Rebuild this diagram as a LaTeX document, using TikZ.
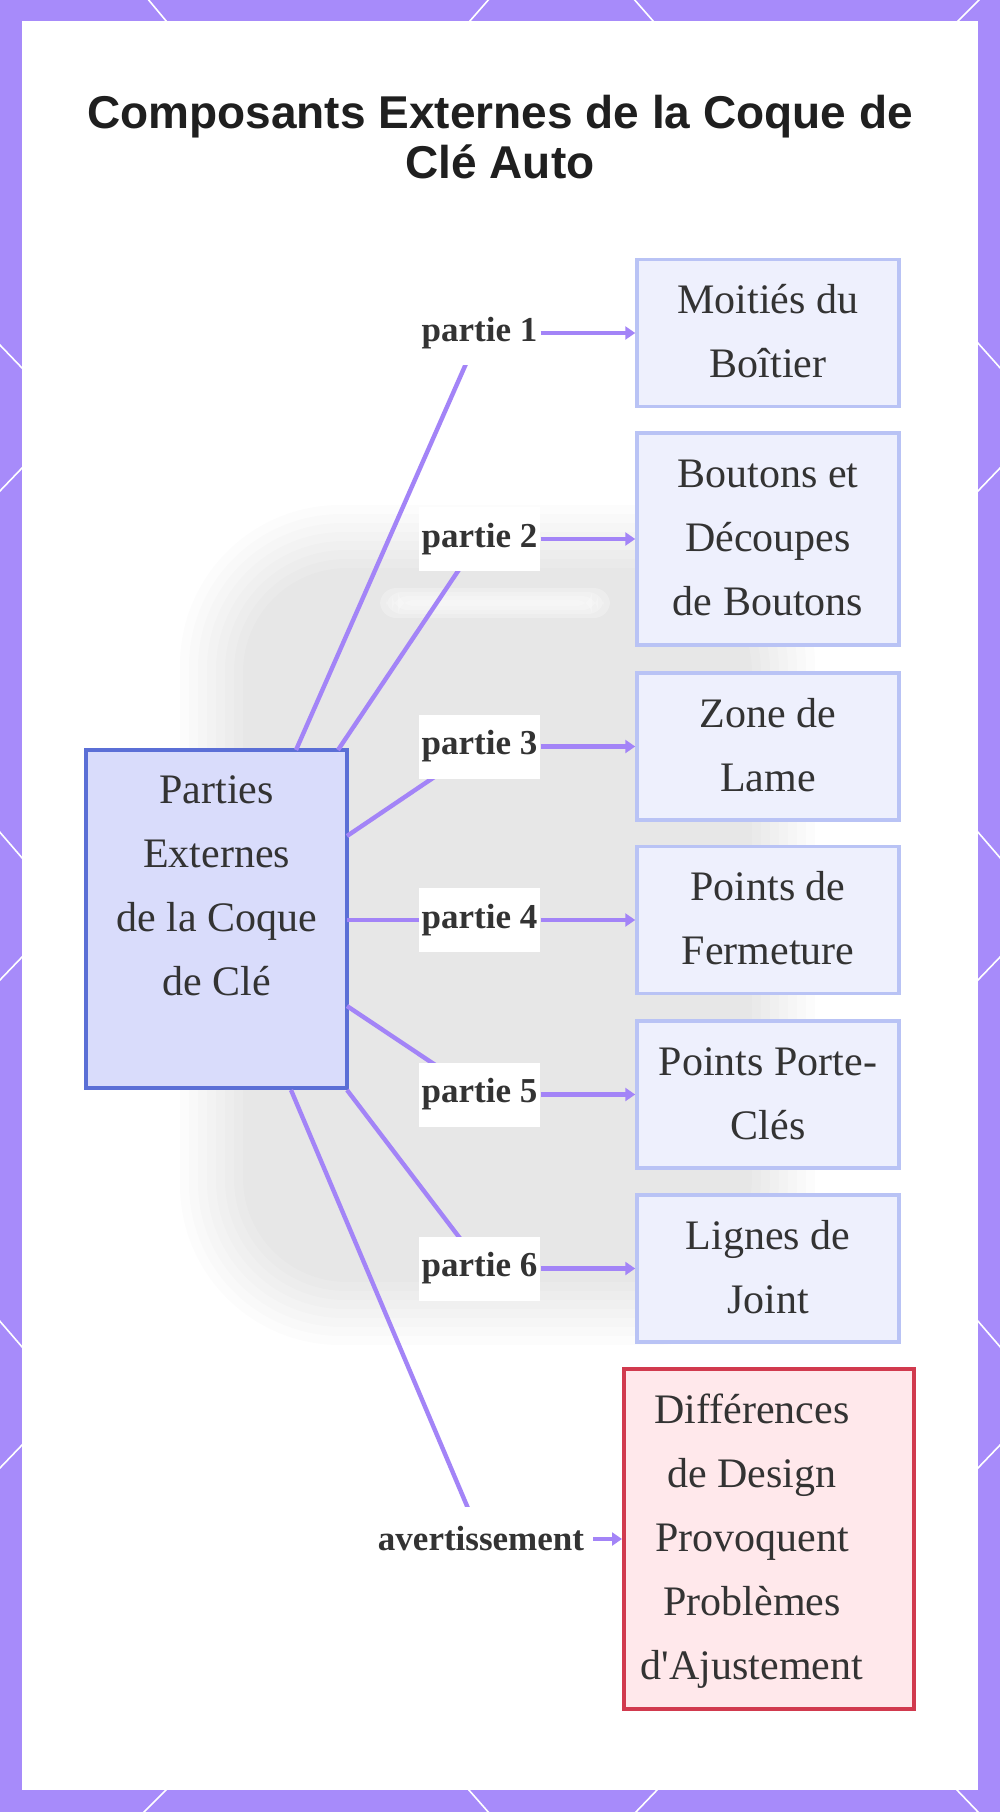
\documentclass[tikz,border=0pt]{standalone}
\usepackage{fontspec}
\setmainfont{Liberation Serif}[Ligatures=TeXOff]
\newfontfamily\titlefont{Liberation Sans}
\usetikzlibrary{arrows.meta}
\definecolor{framec}{HTML}{A78BFA}
\definecolor{edgec}{HTML}{A384F7}
\definecolor{mainfill}{HTML}{D9DCFB}
\definecolor{mainline}{HTML}{5B6FD6}
\definecolor{partfill}{HTML}{EEF0FD}
\definecolor{partline}{HTML}{B9C3F5}
\definecolor{warnfill}{HTML}{FFE8EB}
\definecolor{warnline}{HTML}{D13A4E}
\definecolor{txt}{HTML}{333333}
\begin{document}
\begin{tikzpicture}[x=0.5pt,y=-0.5pt,
  boxtext/.style={align=center, text=txt, font=\fontsize{21pt}{32pt}\selectfont, inner sep=0pt},
  partbox/.style={boxtext, draw=partline, fill=partfill, line width=1.75pt, minimum width=131pt, minimum height=73.5pt},
  mainbox/.style={boxtext, draw=mainline, fill=mainfill, line width=2pt, minimum width=130.5pt, minimum height=169pt},
  warnbox/.style={draw=warnline, fill=warnfill, line width=2pt, minimum width=145pt, minimum height=170pt, inner sep=0pt},
  lbl/.style={fill=white, text=txt, font=\bfseries\fontsize{17.5pt}{21pt}\selectfont, inner xsep=1.5pt, inner ysep=0pt, minimum height=32pt},
  edge/.style={draw=edgec, line width=2.2pt},
  arr/.style={edge, -{Triangle[length=5pt,width=6.5pt]}},
  deco/.style={draw=white, line width=0.8pt}
]
\useasboundingbox (0,0) rectangle (1000,1812);
% frame
\fill[framec] (0,0) rectangle (1000,1812);
\fill[white] (22,21) rectangle (978,1790);
% white marks in frame
\draw[deco] (147,-2) -- (167,22);
\draw[deco] (490,-2) -- (469,22);
\draw[deco] (633,-2) -- (654,22);
\draw[deco] (981,-2) -- (957,22);
\draw[deco] (167,1789) -- (142,1814);
\draw[deco] (468,1789) -- (490,1814);
\draw[deco] (658,1789) -- (634,1814);
\draw[deco] (956,1789) -- (980,1814);
\draw[deco] (-2,343) -- (23,369);
\draw[deco] (-2,493) -- (23,467);
\draw[deco] (-2,830) -- (23,859);
\draw[deco] (-2,982) -- (23,956);
\draw[deco] (-2,1319) -- (23,1348);
\draw[deco] (-2,1470) -- (23,1444);
\draw[deco] (977,342) -- (1002,370);
\draw[deco] (977,492) -- (1002,466);
\draw[deco] (977,831) -- (1002,860);
\draw[deco] (977,981) -- (1002,955);
\draw[deco] (977,1320) -- (1002,1349);
\draw[deco] (977,1469) -- (1002,1443);
% faint blurred background shape
\foreach \i in {0,...,7}{
  \fill[black, opacity=0.012, rounded corners={80pt-\i*4pt}] ({180+\i*9},{505+\i*9}) rectangle ({815-\i*9},{1345-\i*9});
}
\foreach \i in {0,...,3}{
  \fill[white, opacity=0.25, rounded corners=8pt] ({380+\i*6},{588+\i*4}) rectangle ({610-\i*6},{618-\i*4});
}
% title
\node[font=\titlefont\bfseries\fontsize{23pt}{25pt}\selectfont, align=center, text=black!88, inner sep=0pt] (title) at (500,143) {\strut Composants Externes de la Coque de\\\strut Clé Auto};
% main node
\node[mainbox] (main) at (216.5,919) {\strut Parties\\\strut Externes\\\strut de la Coque\\\strut de Clé\\\strut};
% part boxes
\node[partbox] (b1) at (768,333) {\strut Moitiés du\\\strut Boîtier};
\node[partbox, minimum height=106pt] (b2) at (768,539) {\strut Boutons et\\\strut Découpes\\\strut de Boutons};
\node[partbox] (b3) at (768,746.5) {\strut Zone de\\\strut Lame};
\node[partbox] (b4) at (768,920) {\strut Points de\\\strut Fermeture};
\node[partbox] (b5) at (768,1094.5) {\strut Points Porte-\\\strut Clés};
\node[partbox] (b6) at (768,1268.5) {\strut Lignes de\\\strut Joint};
\node[warnbox] (warn) at (769,1539) {};
\node[boxtext] (warntext) at (752,1539) {\strut Différences\\\strut de Design\\\strut Provoquent\\\strut Problèmes\\\strut d'Ajustement};
% start points on main box
\coordinate (s1) at (296,750);
\coordinate (s2) at (338,750);
\coordinate (s3) at (347,836);
\coordinate (s4) at (347,920);
\coordinate (s5) at (347,1006);
\coordinate (s6) at (347,1090);
\coordinate (s7) at (291,1090);
% label positions
\coordinate (p1) at (479.5,333);
\coordinate (p2) at (479.5,539);
\coordinate (p3) at (479.5,746.5);
\coordinate (p4) at (479.5,920);
\coordinate (p5) at (479.5,1094.5);
\coordinate (p6) at (483,1268.5);
\coordinate (p7) at (481,1539);
% connectors from main box to labels
\draw[edge] (s1) -- (p1);
\draw[edge] (s2) -- (p2);
\draw[edge] (s3) -- (p3);
\draw[edge] (s4) -- (p4);
\draw[edge] (s5) -- (p5);
\draw[edge] (s6) -- (p6);
\draw[edge] (s7) -- (p7);
% labels
\node[lbl] (l1) at (p1) {partie 1};
\node[lbl] (l2) at (p2) {partie 2};
\node[lbl] (l3) at (p3) {partie 3};
\node[lbl] (l4) at (p4) {partie 4};
\node[lbl] (l5) at (p5) {partie 5};
\node[lbl] (l6) at (479.5,1268.5) {partie 6};
\node[lbl] (l7) at (p7) {avertissement};
% arrows from labels to boxes
\draw[arr] (l1.east) -- (b1.west);
\draw[arr] (l2.east) -- (b2.west);
\draw[arr] (l3.east) -- (b3.west);
\draw[arr] (l4.east) -- (b4.west);
\draw[arr] (l5.east) -- (b5.west);
\draw[arr] (l6.east) -- (b6.west);
\draw[arr] ([xshift=3pt]l7.east) -- (warn.west);
\end{tikzpicture}
\end{document}
